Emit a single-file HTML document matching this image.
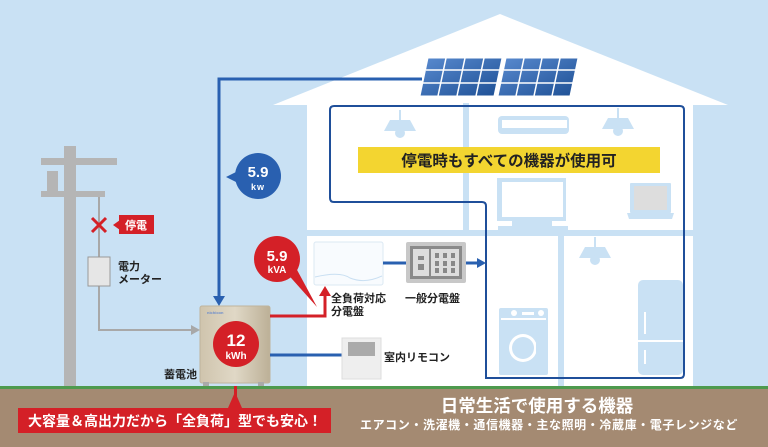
<!DOCTYPE html>
<html><head><meta charset="utf-8"><style>
html,body{margin:0;padding:0;width:768px;height:447px;overflow:hidden;background:#c9e1f4}
svg{display:block}
text{font-family:"Liberation Sans","Noto Sans CJK JP",sans-serif;font-weight:bold}
</style></head><body>
<svg width="768" height="447" viewBox="0 0 768 447" xmlns="http://www.w3.org/2000/svg">
<defs>
<linearGradient id="bat" x1="0" x2="1"><stop offset="0" stop-color="#cfc4ad"/><stop offset="0.5" stop-color="#e0d8c6"/><stop offset="1" stop-color="#bcb097"/></linearGradient>
<linearGradient id="pv" x1="0" y1="0" x2="1" y2="1"><stop offset="0" stop-color="#5a8bd0"/><stop offset="1" stop-color="#1d4f94"/></linearGradient>
</defs>
<rect width="768" height="447" fill="#c9e1f4"/>
<polygon points="273,105 500,14 728,105" fill="#fff"/>
<rect x="307" y="103" width="386" height="286" fill="#fff"/>
<rect x="463" y="103" width="6" height="130" fill="#c9e1f4"/>
<rect x="307" y="230" width="386" height="6" fill="#c9e1f4"/>
<rect x="558" y="233" width="6" height="156" fill="#c9e1f4"/>
<g fill="url(#pv)" stroke="#fff" stroke-width="1">
<polygon points="428,58 502,58 494,96 420,96"/>
<polygon points="506,58 578,58 570,96 498,96"/>
</g>
<g stroke="#fff" stroke-width="1.5">
<line x1="426" y1="70" x2="500" y2="70"/><line x1="423" y1="83" x2="497" y2="83"/>
<line x1="504" y1="70" x2="576" y2="70"/><line x1="501" y1="83" x2="573" y2="83"/>
<line x1="446" y1="58" x2="438" y2="96"/><line x1="465" y1="58" x2="457" y2="96"/><line x1="484" y1="58" x2="476" y2="96"/>
<line x1="524" y1="58" x2="516" y2="96"/><line x1="542" y1="58" x2="534" y2="96"/><line x1="560" y1="58" x2="552" y2="96"/>
</g>
<g fill="#c9e1f4">
<rect x="399" y="110" width="2" height="10"/><polygon points="390,120 410,120 416,131 384,131"/><circle cx="400" cy="133" r="5"/>
<rect x="617" y="108" width="2" height="10"/><polygon points="608,118 628,118 634,129 602,129"/><circle cx="618" cy="131" r="5"/>
<rect x="594" y="237" width="2" height="10"/><polygon points="585,247 605,247 611,258 579,258"/><circle cx="595" cy="260" r="5"/>
<rect x="498" y="116" width="71" height="18" rx="4"/>
<rect x="497" y="178" width="69" height="43"/>
<rect x="512" y="221" width="40" height="6"/><rect x="498" y="226" width="70" height="6"/>
<rect x="630" y="183" width="41" height="30" rx="1"/>
<polygon points="627,213 674,213 672,219 629,219"/>
<rect x="499" y="308" width="49" height="67" rx="2"/>
<rect x="638" y="280" width="45" height="95" rx="5"/>
</g>
<g fill="#fff">
<rect x="502" y="120" width="65" height="8"/>
<rect x="502" y="182" width="61" height="35"/>
<rect x="634" y="186" width="33" height="24" fill="#ddd"/>
<rect x="501" y="318" width="45" height="2"/>
<circle cx="514" cy="313" r="3"/><rect x="522" y="312" width="12" height="3"/><circle cx="541" cy="313" r="3"/>
<circle cx="523" cy="348" r="14"/><circle cx="523" cy="348" r="11" fill="#c9e1f4"/>
<rect x="536" y="342" width="12" height="12" fill="#c9e1f4"/>
<rect x="638" y="340" width="45" height="2"/>
<rect x="644" y="312" width="2" height="22"/><rect x="644" y="350" width="2" height="14"/>
</g>
<path d="M486,378 L486,206 Q486,202 482,202 L334,202 Q330,202 330,198 L330,110 Q330,106 334,106 L680,106 Q684,106 684,110 L684,374 Q684,378 680,378 Z" fill="none" stroke="#1f4f9a" stroke-width="2"/>
<rect x="358" y="147" width="302" height="26" fill="#f3d530"/>
<text x="509" y="166" font-size="15.5" text-anchor="middle" fill="#222">停電時もすべての機器が使用可</text>
<g fill="#b5b5b5">
<rect x="64" y="146" width="12" height="243"/>
<rect x="41" y="158" width="76" height="7"/>
<rect x="41" y="191" width="64" height="6"/>
<rect x="47" y="171" width="11" height="20"/>
</g>
<polyline points="99,197 99,330 192,330" fill="none" stroke="#a8a8a8" stroke-width="2"/>
<polygon points="191,325 200,330 191,335" fill="#a8a8a8"/>
<rect x="88" y="257" width="22" height="29" fill="#e6e6e6" stroke="#999" stroke-width="1"/>
<text x="118" y="270" font-size="11" fill="#222">電力</text>
<text x="118" y="283" font-size="11" fill="#222">メーター</text>
<g stroke="#d42027" stroke-width="3"><line x1="92" y1="218" x2="106" y2="232"/><line x1="106" y1="218" x2="92" y2="232"/></g>
<polygon points="113,225 120,220 120,230" fill="#d42027"/>
<rect x="119" y="215" width="35" height="19" fill="#d42027"/>
<text x="136" y="229" font-size="11" fill="#fff" text-anchor="middle">停電</text>
<polyline points="422,79 219,79 219,300" fill="none" stroke="#2960b0" stroke-width="3"/>
<polygon points="213,296 225,296 219,306" fill="#2960b0"/>
<polygon points="226,177 238,171 238,183" fill="#2960b0"/>
<circle cx="258" cy="176" r="23" fill="#2960b0"/>
<text x="258" y="177" font-size="15" fill="#fff" text-anchor="middle">5.9</text>
<text x="258" y="190" font-size="9" fill="#fff" text-anchor="middle" letter-spacing="1">kw</text>
<rect x="200" y="306" width="70" height="77" rx="2" fill="url(#bat)" stroke="#bfb49c"/>
<rect x="203" y="382" width="6" height="5" fill="#aaa"/><rect x="258" y="382" width="6" height="5" fill="#aaa"/>
<text x="207" y="314" font-size="4" fill="#6b8ccc">nichicon</text>
<circle cx="236" cy="344" r="23" fill="#d42027"/>
<text x="236" y="346" font-size="17" fill="#fff" text-anchor="middle">12</text>
<text x="236" y="359" font-size="10" fill="#fff" text-anchor="middle">kWh</text>
<text x="164" y="378" font-size="11" fill="#222">蓄電池</text>
<polyline points="270,316 325,316 325,294" fill="none" stroke="#d42027" stroke-width="3"/>
<polygon points="319,296 331,296 325,286" fill="#d42027"/>
<polygon points="284,270 296,268 317,307" fill="#d42027"/>
<circle cx="277" cy="259" r="23" fill="#d42027"/>
<text x="277" y="261" font-size="15" fill="#fff" text-anchor="middle">5.9</text>
<text x="277" y="273" font-size="10" fill="#fff" text-anchor="middle">kVA</text>
<rect x="314" y="242" width="69" height="43" rx="2" fill="#f8fbfe" stroke="#dbe8f3"/>
<path d="M315,277 Q340,271 350,278 Q365,284 382,276" fill="none" stroke="#c9dff2"/>
<line x1="383" y1="263" x2="406" y2="263" stroke="#2960b0" stroke-width="3"/>
<rect x="406" y="242" width="60" height="41" rx="2" fill="#c8c8c8"/>
<rect x="410" y="246" width="52" height="33" fill="#8a8a8a"/>
<rect x="413" y="249" width="16" height="27" fill="#ddd"/>
<rect x="431" y="249" width="28" height="27" fill="#ddd"/>
<g fill="#888"><rect x="418" y="256" width="6" height="4"/><rect x="418" y="264" width="6" height="6"/>
<rect x="435" y="253" width="4" height="5"/><rect x="443" y="253" width="4" height="5"/><rect x="451" y="253" width="4" height="5"/>
<rect x="435" y="261" width="4" height="5"/><rect x="443" y="261" width="4" height="5"/><rect x="451" y="261" width="4" height="5"/>
<rect x="435" y="268" width="4" height="5"/><rect x="443" y="268" width="4" height="5"/><rect x="451" y="268" width="4" height="5"/></g>
<line x1="466" y1="263" x2="478" y2="263" stroke="#2960b0" stroke-width="3"/>
<polygon points="477,258 486,263 477,268" fill="#2960b0"/>
<text x="331" y="302" font-size="11" fill="#222">全負荷対応</text>
<text x="331" y="315" font-size="11" fill="#222">分電盤</text>
<text x="405" y="302" font-size="11" fill="#222">一般分電盤</text>
<line x1="270" y1="355" x2="342" y2="355" stroke="#2960b0" stroke-width="3"/>
<rect x="342" y="338" width="39" height="41" fill="#eee" stroke="#ddd"/>
<rect x="348" y="342" width="27" height="14" fill="#aaa"/>
<text x="384" y="361" font-size="11" fill="#222">室内リモコン</text>
<rect x="0" y="389" width="768" height="58" fill="#a48a72"/>
<rect x="0" y="386" width="768" height="3" fill="#4e9a4e"/>
<rect x="234" y="386" width="3" height="22" fill="#d42027"/>
<polygon points="228,408 242,408 235,392" fill="#d42027"/>
<rect x="18" y="408" width="313" height="25" fill="#d42027"/>
<text x="175" y="426" font-size="14" fill="#fff" text-anchor="middle">大容量＆高出力だから「全負荷」型でも安心！</text>
<text x="537" y="412" font-size="17.5" fill="#fff" text-anchor="middle">日常生活で使用する機器</text>
<text x="549" y="429" font-size="12" fill="#fff" text-anchor="middle" letter-spacing="0.6">エアコン・洗濯機・通信機器・主な照明・冷蔵庫・電子レンジなど</text>
</svg>
</body></html>
